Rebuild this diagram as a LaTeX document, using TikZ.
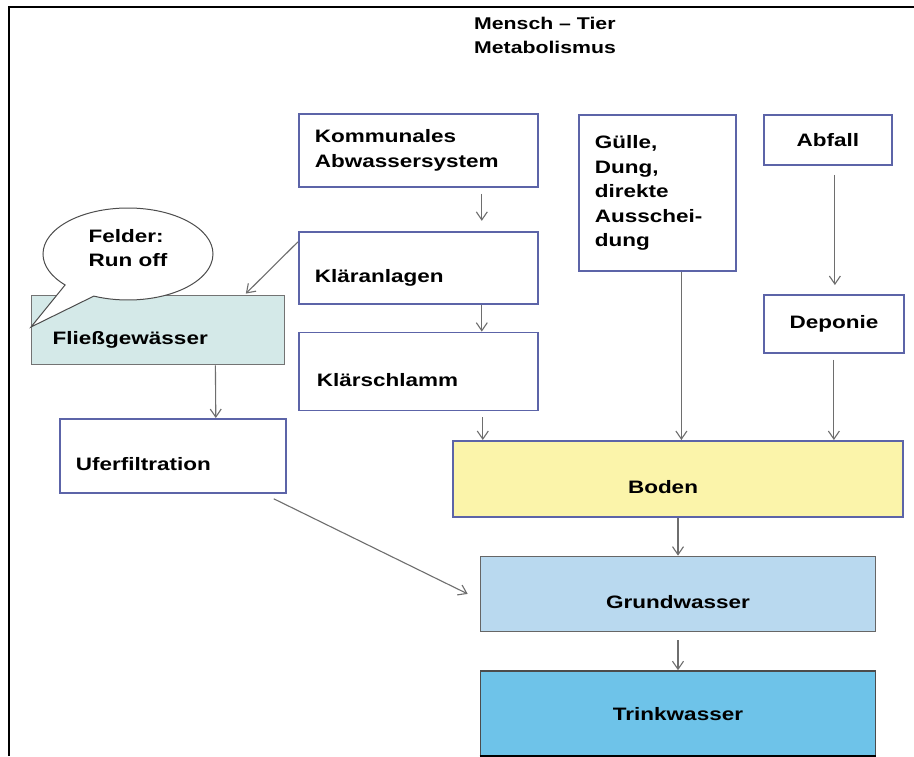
\documentclass[tikz,border=0pt]{standalone}
\usepackage{fontspec}
\setmainfont{Liberation Sans}[FakeStretch=1.25]
\usepackage{tikz}
\usetikzlibrary{positioning,arrows.meta,calc,shapes.callouts}
\definecolor{boxblue}{HTML}{5C64A8}
\definecolor{flussgruen}{HTML}{D4E9E8}
\definecolor{bodengelb}{HTML}{FBF4AA}
\definecolor{grundblau}{HTML}{B9D9EF}
\definecolor{trinkblau}{HTML}{6EC3E9}
\definecolor{pfeilgrau}{HTML}{6E6E6E}
\tikzset{
  kasten/.style ={rectangle, draw=boxblue, line width=1.8pt, fill=white,
                  inner xsep=16pt, inner ysep=0pt, align=left, anchor=north west,
                  font=\fontsize{18}{24.5}\selectfont\bfseries},
  mkasten/.style={kasten, align=center},
  tief/.style   ={text height=33pt, text depth=4pt},
  fluss/.style  ={kasten, fill=flussgruen, draw=black!55, line width=1.4pt, inner xsep=21pt},
  schicht/.style={kasten, align=center, anchor=north, line width=1.6pt},
  pfeil/.style  ={-{Straight Barb[length=8pt, width=11pt]}, draw=pfeilgrau, line width=1.1pt},
  titel/.style  ={align=left, inner sep=0pt, font=\fontsize{17}{24}\selectfont\bfseries},
}

\begin{document}
\begin{tikzpicture}[x=1pt, y=-1pt, node distance=40pt]
  \path[fill=white, use as bounding box] (0,0) rectangle (914,756);
  \draw[line width=1.5pt] (9,756) -- (9,7) -- (914,7);

  \node[titel, anchor=north west] (titel) at (474,17) {Mensch – Tier\\Metabolismus};

  % Quellen oben
  \node[kasten, minimum width=239pt, minimum height=73pt, text width=207pt] (kom) at (298,113) {Kommunales\\Abwassersystem};
  \node[kasten, below=43pt of kom, anchor=north, tief, minimum width=239pt, minimum height=72pt, text width=207pt] (klaer) {Kläranlagen};
  \node[kasten, below=27pt of klaer, anchor=north, tief, minimum width=239pt, minimum height=78pt, text width=203pt, inner xsep=18pt] (schlamm) {Klärschlamm};
  \node[kasten, minimum width=157pt, minimum height=156pt, text width=125pt] (guelle) at (578,114) {Gülle,\\Dung,\\direkte\\Ausschei-\\dung};
  \node[mkasten, minimum width=128pt, minimum height=50pt, text width=96pt] (abf) at (763,114) {Abfall};
  \node[mkasten, minimum width=140pt, minimum height=58pt, text width=108pt] (dep) at (763,294) {Deponie};

  % Oberflaechenwasser
  \node[fluss, tief, minimum width=253pt, minimum height=69pt, text width=211pt] (fliess) at (31,295) {Fließgewässer};
  \node[ellipse callout, draw=black!70, fill=white, line width=1pt, minimum width=170pt, minimum height=92pt,
        callout absolute pointer={([yshift=-32pt]fliess.north west)}, callout pointer arc=24,
        align=left, font=\fontsize{18}{24.5}\selectfont\bfseries, text depth=12pt] (felder) at (128,254) {Felder:\\Run off};
  \node[kasten, tief, minimum width=226pt, minimum height=74pt, text width=194pt] (ufer) at (59,418) {Uferfiltration};

  % Schichten
  \node[schicht, tief, fill=bodengelb, minimum width=450pt, minimum height=76pt] (boden) at (678,440) {\hspace*{-30pt}Boden};
  \node[schicht, tief, fill=grundblau, draw=black!60, below=38pt of boden, minimum width=395pt, minimum height=75pt] (grund) {Grundwasser};
  \node[schicht, fill=trinkblau, draw=black!70, below=38pt of grund, minimum width=395pt, minimum height=85pt, text depth=0pt] (trink) {Trinkwasser};
  \draw[line width=4pt] (trink.south west) -- (trink.south east);

  % Pfeile
  \draw[pfeil, shorten <=6pt, shorten >=10pt] ([xshift=-57pt]kom.south east) -- ([xshift=-57pt]klaer.north east);
  \draw[pfeil] ([xshift=-57pt]klaer.south east) -- ([xshift=-57pt]schlamm.north east);
  \draw[pfeil, shorten >=2pt] ([yshift=-11pt]klaer.north west) -- ([xshift=-41pt]fliess.north east);
  \draw[pfeil] ([xshift=-70pt]fliess.south east) -- ([xshift=-71pt]ufer.north east);
  \draw[pfeil, shorten <=6pt] ([xshift=-56pt]schlamm.south east) -- ([xshift=-56pt]schlamm.south east |- boden.north);
  \draw[pfeil] ([xshift=24pt]guelle.south) -- ([xshift=24pt]guelle.south |- boden.north);
  \draw[pfeil, shorten <=9pt, shorten >=9pt] ([xshift=7pt]abf.south) -- ([xshift=7pt]abf.south |- dep.north);
  \draw[pfeil, shorten <=6pt] (dep.south) -- (dep.south |- boden.north);
  \draw[pfeil] (boden.south) -- (grund.north);
  \draw[pfeil, shorten <=8pt] (grund.south) -- (trink.north);
  \draw[pfeil] ([xshift=-13pt, yshift=-5pt]ufer.south east) -- ([xshift=-12pt]grund.west);
\end{tikzpicture}
\end{document}
